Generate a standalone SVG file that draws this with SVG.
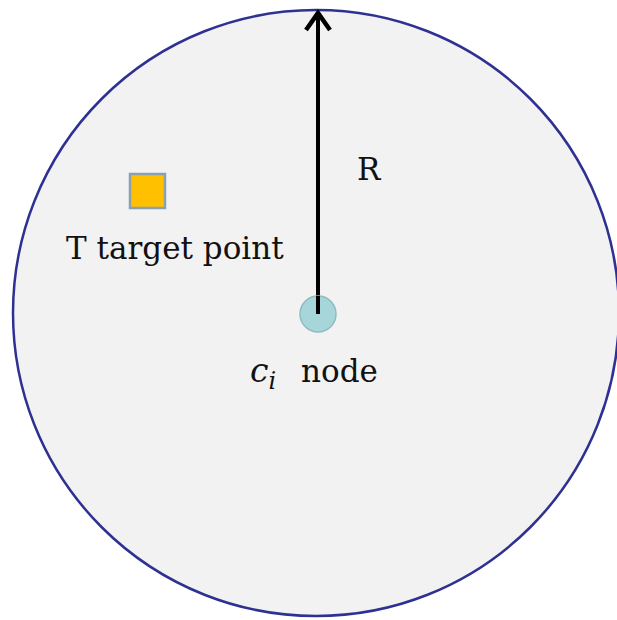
<svg xmlns="http://www.w3.org/2000/svg" width="617" height="620" viewBox="0 0 617 620">
<style>
.t{font-family:"DejaVu Serif","Liberation Serif",serif;font-size:31px;fill:#111}
</style>
<rect width="617" height="620" fill="#ffffff"/>
<g id="range">
<circle cx="316" cy="313" r="303" fill="#f2f2f2" stroke="#2e3192" stroke-width="2.5"/>
</g>
<g id="connectors">
<line x1="318" y1="314" x2="318" y2="14" stroke="#000" stroke-width="4"/>
<polyline points="306,30 318,13 330,30" fill="none" stroke="#000" stroke-width="4.5" stroke-linejoin="miter"/>
</g>
<g id="target">
<rect x="130" y="174" width="35" height="34" fill="#ffc000" stroke="#8aa0b0" stroke-width="2.5"/>
<text class="t" x="66" y="259">T target point</text>
</g>
<g id="node">
<circle cx="318" cy="314" r="18" fill="#a6d6da" stroke="#8fbcbf" stroke-width="1.5"/>
<line x1="318" y1="314" x2="318" y2="296" stroke="#000" stroke-width="4"/>
<text class="t" x="250" y="382"><tspan font-style="italic" font-size="33">c</tspan><tspan font-style="italic" font-size="24" dy="7">i</tspan><tspan dy="-7" x="301">node</tspan></text>
</g>
<g id="label-R">
<text class="t" x="357" y="180">R</text>
</g>
</svg>
